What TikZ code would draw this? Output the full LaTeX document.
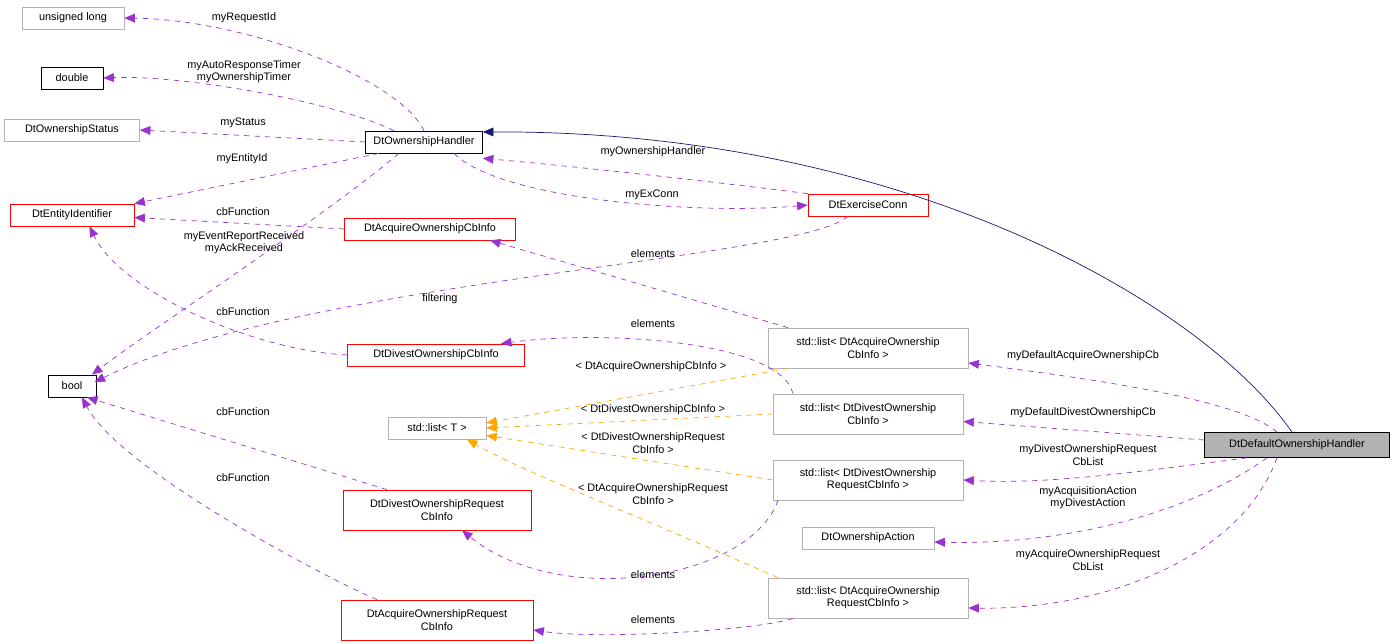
\documentclass[tikz,border=0pt]{standalone}
\usepackage{fontspec}
\setmainfont{Liberation Sans}
\usetikzlibrary{arrows.meta}
\definecolor{usecol}{HTML}{9A32CD}
\definecolor{tmplcol}{HTML}{FFA500}
\definecolor{inhcol}{HTML}{191970}
\begin{document}
\begin{tikzpicture}[x=0.02cm, y=-0.02cm,
    box/.style={draw, rectangle, inner sep=1pt, align=center, font=\fontsize{6.2}{7}\selectfont},
    gbox/.style={box, draw=gray!60},
    rbox/.style={box, draw=red},
    kbox/.style={box, draw=black},
    lbl/.style={align=center, font=\fontsize{6.2}{7}\selectfont},
    use/.style={draw=usecol, dashed, -{Triangle[length=6pt,width=5pt]}},
    tmpl/.style={draw=tmplcol, dashed, -{Triangle[length=6pt,width=5pt]}},
    inh/.style={draw=inhcol, -{Triangle[length=6pt,width=5pt]}}]
    \useasboundingbox (0,0) rectangle (1397,644);
    % classes
    \node[gbox, minimum width=102*0.02cm, minimum height=22*0.02cm] (ulong) at (73,18) {unsigned long};
    \node[kbox, minimum width=62*0.02cm, minimum height=22*0.02cm] (dbl) at (72,78) {double};
    \node[gbox, minimum width=135*0.02cm, minimum height=22*0.02cm] (status) at (72,130) {DtOwnershipStatus};
    \node[rbox, minimum width=124*0.02cm, minimum height=22*0.02cm] (entity) at (72,215) {DtEntityIdentifier};
    \node[kbox, minimum width=48*0.02cm, minimum height=22*0.02cm] (bool) at (72,386) {bool};
    \node[gbox, minimum width=98*0.02cm, minimum height=22*0.02cm] (listT) at (437,428) {std::list\textless{} T \textgreater};
    \node[kbox, minimum width=117*0.02cm, minimum height=22*0.02cm] (handler) at (424,142) {DtOwnershipHandler};
    \node[rbox, minimum width=120*0.02cm, minimum height=22*0.02cm] (exconn) at (868,205) {DtExerciseConn};
    \node[rbox, minimum width=171*0.02cm, minimum height=22*0.02cm] (acqcb) at (430,229) {DtAcquireOwnershipCbInfo};
    \node[rbox, minimum width=177*0.02cm, minimum height=22*0.02cm] (divcb) at (436,355) {DtDivestOwnershipCbInfo};
    \node[gbox, minimum width=200*0.02cm, minimum height=40*0.02cm] (lacqcb) at (868,348) {std::list\textless{} DtAcquireOwnership\\CbInfo \textgreater};
    \node[gbox, minimum width=190*0.02cm, minimum height=40*0.02cm] (ldivcb) at (868,414) {std::list\textless{} DtDivestOwnership\\CbInfo \textgreater};
    \node[gbox, minimum width=190*0.02cm, minimum height=40*0.02cm] (ldivreq) at (868,480) {std::list\textless{} DtDivestOwnership\\RequestCbInfo \textgreater};
    \node[gbox, minimum width=132*0.02cm, minimum height=22*0.02cm] (action) at (868,538) {DtOwnershipAction};
    \node[gbox, minimum width=200*0.02cm, minimum height=40*0.02cm] (lacqreq) at (868,598) {std::list\textless{} DtAcquireOwnership\\RequestCbInfo \textgreater};
    \node[rbox, minimum width=188*0.02cm, minimum height=40*0.02cm] (divreq) at (437,510) {DtDivestOwnershipRequest\\CbInfo};
    \node[rbox, minimum width=192*0.02cm, minimum height=40*0.02cm] (acqreq) at (437,620) {DtAcquireOwnershipRequest\\CbInfo};
    \node[kbox, fill=gray!60, minimum width=185*0.02cm, minimum height=25*0.02cm] (default) at (1297,445) {DtDefaultOwnershipHandler};
    % handler members
    \draw[use] (handler.north) .. controls (400,80) and (250,20) .. (ulong.east);
    \draw[use] ([xshift=-0.6cm]handler.north) .. controls (330,100) and (180,75) .. (dbl.east);
    \draw[use] (handler.west) -- (status.east);
    \draw[use] ([xshift=-0.9cm]handler.south) -- (entity.north east);
    \draw[use] ([xshift=-0.5cm]handler.south) .. controls (320,220) and (150,330) .. ([xshift=0.4cm]bool.north);
    \draw[use] (exconn.north west) .. controls (700,180) and (560,165) .. ([yshift=-0.1cm]handler.south east);
    \draw[use] ([xshift=0.6cm]handler.south) .. controls (500,200) and (700,215) .. (exconn.west);
    \draw[use] (acqcb.west) -- ([yshift=-0.05cm]entity.east);
    \draw[use] ([xshift=-0.4cm]exconn.south) .. controls (800,260) and (300,280) .. ([xshift=0.45cm,yshift=-0.15cm]bool.north);
    \draw[use] (divcb.west) .. controls (250,350) and (120,290) .. ([xshift=0.35cm]entity.south);
    % containers
    \draw[use] ([xshift=-1.6cm]lacqcb.north) -- ([xshift=1.2cm]acqcb.south);
    \draw[use] ([xshift=-1.5cm]ldivcb.north) .. controls (780,340) and (600,330) .. ([xshift=1.3cm]divcb.north);
    \draw[tmpl] ([xshift=-1.6cm]lacqcb.south) -- ([yshift=0.1cm]listT.east);
    \draw[tmpl] (ldivcb.west) -- (listT.east);
    \draw[tmpl] (ldivreq.west) -- ([yshift=-0.15cm]listT.east);
    \draw[tmpl] ([xshift=-1.8cm]lacqreq.north) .. controls (600,500) and (520,470) .. ([xshift=0.6cm]listT.south);
    \draw[use] ([xshift=-1.0cm]divreq.north) -- ([xshift=0.3cm]bool.south);
    \draw[use] ([xshift=-1.2cm]acqreq.north) .. controls (330,580) and (120,470) .. ([xshift=0.2cm]bool.south);
    \draw[use] ([xshift=-1.8cm]ldivreq.south) .. controls (750,580) and (560,610) .. ([xshift=0.5cm]divreq.south);
    \draw[use] ([xshift=-1.5cm]lacqreq.south) .. controls (760,630) and (600,640) .. ([yshift=-0.2cm]acqreq.east);
    % default handler
    \draw[inh] ([xshift=-0.1cm]default.north) .. controls (1200,300) and (900,130) .. ([yshift=0.2cm]handler.east);
    \draw[use] ([xshift=-0.4cm]default.north) .. controls (1240,400) and (1100,380) .. ([yshift=-0.3cm]lacqcb.east);
    \draw[use] ([yshift=0.1cm]default.west) -- ([yshift=-0.15cm]ldivcb.east);
    \draw[use] ([xshift=-1.0cm]default.south) .. controls (1150,470) and (1050,485) .. (ldivreq.east);
    \draw[use] ([xshift=-0.6cm]default.south) .. controls (1180,520) and (1050,545) .. ([yshift=-0.08cm]action.east);
    \draw[use] ([xshift=-0.4cm]default.south) .. controls (1240,560) and (1100,610) .. ([yshift=-0.2cm]lacqreq.east);
    % labels
    \node[lbl] (l1) at (244,18) {myRequestId};
    \node[lbl] (l2) at (244,72) {myAutoResponseTimer\\myOwnershipTimer};
    \node[lbl] (l3) at (243,123) {myStatus};
    \node[lbl] (l4) at (242,159) {myEntityId};
    \node[lbl] (l5) at (244,243) {myEventReportReceived\\myAckReceived};
    \node[lbl] (l6) at (653,152) {myOwnershipHandler};
    \node[lbl] (l7) at (652,195) {myExConn};
    \node[lbl] (l8) at (243,212) {cbFunction};
    \node[lbl] (l9) at (440,299) {filtering};
    \node[lbl] (l10) at (243,312) {cbFunction};
    \node[lbl] (l11) at (653,254) {elements};
    \node[lbl] (l12) at (653,324) {elements};
    \node[lbl] (l13) at (651,367) {\textless{} DtAcquireOwnershipCbInfo \textgreater};
    \node[lbl] (l14) at (653,410) {\textless{} DtDivestOwnershipCbInfo \textgreater};
    \node[lbl] (l15) at (653,443) {\textless{} DtDivestOwnershipRequest\\CbInfo \textgreater};
    \node[lbl] (l16) at (653,494) {\textless{} DtAcquireOwnershipRequest\\CbInfo \textgreater};
    \node[lbl] (l17) at (243,412) {cbFunction};
    \node[lbl] (l18) at (243,478) {cbFunction};
    \node[lbl] (l19) at (653,575) {elements};
    \node[lbl] (l20) at (653,620) {elements};
    \node[lbl] (l21) at (1083,356) {myDefaultAcquireOwnershipCb};
    \node[lbl] (l22) at (1083,413) {myDefaultDivestOwnershipCb};
    \node[lbl] (l23) at (1088,455) {myDivestOwnershipRequest\\CbList};
    \node[lbl] (l24) at (1088,498) {myAcquisitionAction\\myDivestAction};
    \node[lbl] (l25) at (1088,560) {myAcquireOwnershipRequest\\CbList};
\end{tikzpicture}
\end{document}
